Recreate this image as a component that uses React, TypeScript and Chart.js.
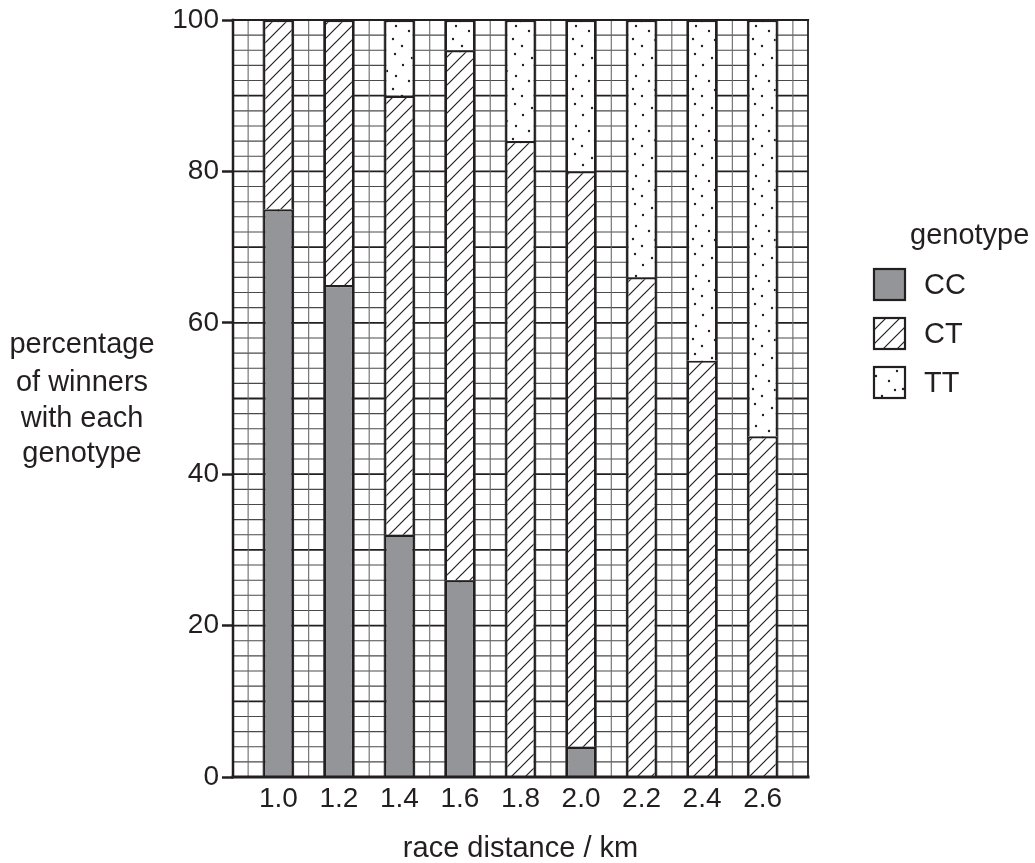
import React, { useEffect, useRef } from "react";
import { Chart, registerables } from "chart.js";

Chart.register(...registerables);

const DISTANCES = [1.0, 1.2, 1.4, 1.6, 1.8, 2.0, 2.2, 2.4, 2.6];
const CC = [75, 65, 32, 26, 0, 4, 0, 0, 0];
const CT = [25, 35, 58, 70, 84, 76, 66, 55, 45];
const TT = [0, 0, 10, 4, 16, 20, 34, 45, 55];
const Y_TICKS = [0, 20, 40, 60, 80, 100];
const GENOTYPES = ["CC", "CT", "TT"];
const Y_TITLE = ["percentage", "of winners", "with each", "genotype"];
const X_TITLE = "race distance / km";
const LEGEND_TITLE = "genotype";

const INK = "#231f20";
const FONT_FAMILY = "'Liberation Sans', Arial, Helvetica, sans-serif";
const TICK_SIZE = 28;
const TITLE_SIZE = 29;

function makeHatch(): CanvasPattern | string {
  const s = 14;
  const c = document.createElement("canvas");
  c.width = s;
  c.height = s;
  const g = c.getContext("2d");
  if (!g) return "#fff";
  g.fillStyle = "#ffffff";
  g.fillRect(0, 0, s, s);
  g.strokeStyle = INK;
  g.lineWidth = 1.2;
  g.beginPath();
  g.moveTo(0, s);
  g.lineTo(s, 0);
  g.moveTo(-2, 2);
  g.lineTo(2, -2);
  g.moveTo(s - 2, s + 2);
  g.lineTo(s + 2, s - 2);
  g.stroke();
  return g.createPattern(c, "repeat") || "#fff";
}

const DOTS: [number, number][] = [
  [5, 4], [22, 8], [13, 15], [27, 21], [6, 26], [19, 31], [3, 39], [25, 40], [12, 46],
];

function makeDots(): CanvasPattern | string {
  const w = 30;
  const h = 50;
  const c = document.createElement("canvas");
  c.width = w;
  c.height = h;
  const g = c.getContext("2d");
  if (!g) return "#fff";
  g.fillStyle = "#ffffff";
  g.fillRect(0, 0, w, h);
  g.fillStyle = INK;
  for (const [dx, dy] of DOTS) {
    g.beginPath();
    g.arc(dx, dy, 1.2, 0, Math.PI * 2);
    g.fill();
  }
  return g.createPattern(c, "repeat") || "#fff";
}

const paperPlugin = {
  id: "paper",
  beforeDatasetsDraw(chart: any) {
    const { ctx, chartArea, scales } = chart;
    const { left, right, top, bottom } = chartArea;
    const x = scales.x;
    const y = scales.y;
    ctx.save();
    for (let i = 0; i <= 50; i++) {
      const v = i * 2;
      const py = y.getPixelForValue(v);
      const major = v % 10 === 0;
      ctx.beginPath();
      ctx.strokeStyle = major ? INK : "#4a4a4a";
      ctx.lineWidth = major ? 1.8 : 1.1;
      ctx.moveTo(left, py);
      ctx.lineTo(right, py);
      ctx.stroke();
    }
    for (let j = 0; j <= 38; j++) {
      const v = (85 + 5 * j) / 100;
      const px = x.getPixelForValue(v);
      ctx.beginPath();
      ctx.strokeStyle = j % 2 === 0 ? "#333" : "#6a6a6a";
      ctx.lineWidth = 1.1;
      ctx.moveTo(px, top);
      ctx.lineTo(px, bottom);
      ctx.stroke();
    }
    ctx.restore();
  },
  afterDatasetsDraw(chart: any) {
    const { ctx, chartArea } = chart;
    const { left, right, top, bottom } = chartArea;
    ctx.save();
    ctx.strokeStyle = INK;
    ctx.lineCap = "square";
    ctx.lineWidth = 2.5;
    ctx.beginPath();
    ctx.moveTo(left, top);
    ctx.lineTo(left, bottom);
    ctx.stroke();
    ctx.lineWidth = 2.2;
    ctx.beginPath();
    ctx.moveTo(left, top);
    ctx.lineTo(right, top);
    ctx.stroke();
    ctx.lineWidth = 1.6;
    ctx.beginPath();
    ctx.moveTo(right, top);
    ctx.lineTo(right, bottom);
    ctx.stroke();
    ctx.lineWidth = 3;
    ctx.beginPath();
    ctx.moveTo(left, bottom);
    ctx.lineTo(right, bottom);
    ctx.stroke();
    ctx.restore();
  },
};

const labelsPlugin = {
  id: "labels",
  afterDraw(chart: any) {
    const { ctx } = chart;
    ctx.save();
    ctx.fillStyle = INK;
    ctx.font = `${TITLE_SIZE}px ${FONT_FAMILY}`;
    ctx.textAlign = "center";
    ctx.textBaseline = "alphabetic";
    const ys = [353, 391, 427, 462];
    Y_TITLE.forEach((line, i) => {
      ctx.fillText(line, 82, ys[i]);
    });
    ctx.textAlign = "left";
    ctx.fillText(LEGEND_TITLE, 910, 244);
    const datasets = chart.data.datasets;
    GENOTYPES.forEach((name, i) => {
      const bx = 874;
      const by = 269 + i * 49;
      const ds = datasets[i];
      ctx.fillStyle = ds.backgroundColor;
      ctx.fillRect(bx, by, 31, 31);
      ctx.strokeStyle = INK;
      ctx.lineWidth = 2.2;
      ctx.strokeRect(bx, by, 31, 31);
      ctx.fillStyle = INK;
      ctx.textBaseline = "middle";
      ctx.fillText(name, 924, by + 17);
      ctx.textBaseline = "alphabetic";
    });
    ctx.restore();
  },
};

export default function App() {
  const ref = useRef<HTMLCanvasElement | null>(null);

  useEffect(() => {
    const canvas = ref.current;
    if (!canvas) return;
    const hatch = makeHatch();
    const dots = makeDots();
    const tickFont = { family: FONT_FAMILY, size: TICK_SIZE };
    const titleFont = { family: FONT_FAMILY, size: TITLE_SIZE, lineHeight: 1.0 };
    const series = [CC, CT, TT];
    const fills = ["#939598", hatch, dots];
    const chart = new Chart(canvas, {
      type: "bar",
      data: {
        datasets: series.map((vals, si) => ({
          label: GENOTYPES[si],
          data: DISTANCES.map((d, i) => ({ x: d, y: vals[i] })),
          backgroundColor: fills[si] as any,
          borderColor: INK,
          borderWidth: 2.2,
          borderSkipped: "start",
          grouped: false,
          categoryPercentage: 0.5,
          barPercentage: 1,
        })),
      },
      options: {
        responsive: false,
        animation: false,
        devicePixelRatio: 1,
        layout: { padding: { left: 0, right: 227, top: 20, bottom: 0 } },
        plugins: {
          legend: { display: false },
          tooltip: { enabled: false },
        },
        scales: {
          x: {
            type: "linear",
            min: 0.85,
            max: 2.75,
            offset: false,
            grid: { display: false, drawTicks: false, offset: false },
            border: { display: false },
            afterBuildTicks: (s: any) => {
              s.ticks = DISTANCES.map((v) => ({ value: v }));
            },
            ticks: {
              autoSkip: false,
              maxRotation: 0,
              padding: 5,
              color: INK,
              font: tickFont,
              callback: (v: any) => Number(v).toFixed(1),
            },
            title: {
              display: true,
              text: X_TITLE,
              color: INK,
              font: titleFont,
              padding: { top: 0, bottom: 0 },
            },
            afterFit: (s: any) => {
              s.height = 86;
            },
          },
          y: {
            type: "linear",
            min: 0,
            max: 100,
            stacked: true,
            afterBuildTicks: (s: any) => {
              s.ticks = Y_TICKS.map((v) => ({ value: v }));
            },
            grid: {
              drawOnChartArea: false,
              drawTicks: true,
              tickLength: 11,
              tickWidth: 2.5,
              tickColor: INK,
            },
            border: { display: false },
            ticks: { color: INK, font: tickFont, padding: 3 },
            afterFit: (s: any) => {
              s.width = 233;
            },
          },
        },
      },
      plugins: [paperPlugin, labelsPlugin],
    } as any);
    return () => chart.destroy();
  }, []);

  return (
    <div style={{ position: "absolute", left: 0, top: 0, width: 1035, height: 863, background: "#fff" }}>
      <canvas ref={ref} width={1035} height={863} style={{ width: 1035, height: 863, display: "block" }} />
    </div>
  );
}
